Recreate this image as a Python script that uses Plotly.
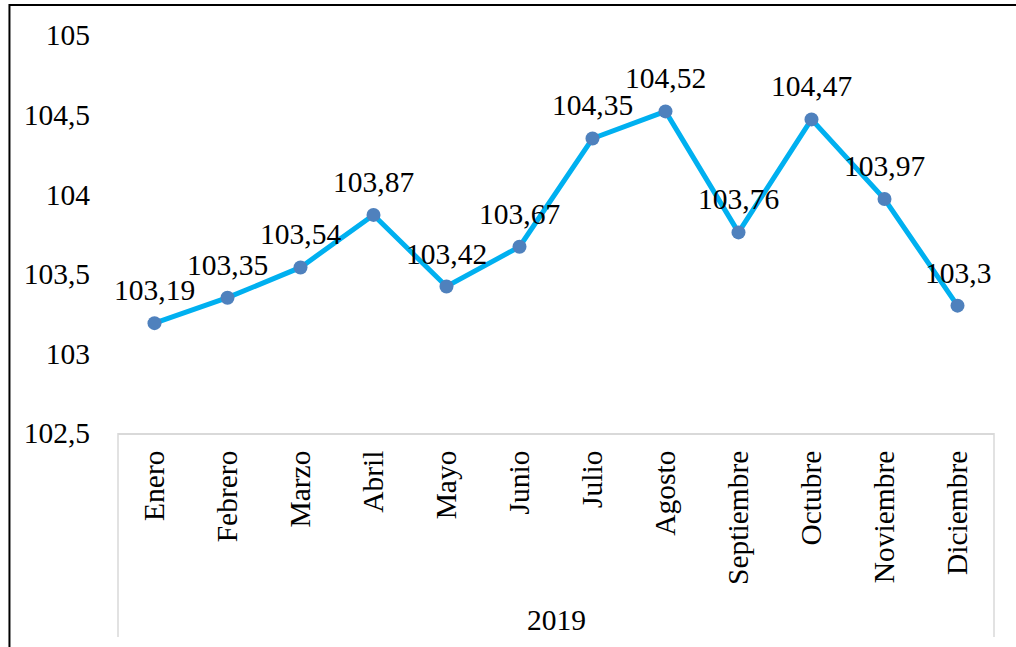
import plotly.graph_objects as go

months = ["Enero", "Febrero", "Marzo", "Abril", "Mayo", "Junio", "Julio",
          "Agosto", "Septiembre", "Octubre", "Noviembre", "Diciembre"]
values = [103.19, 103.35, 103.54, 103.87, 103.42, 103.67, 104.35,
          104.52, 103.76, 104.47, 103.97, 103.30]
year_label = "2019"
y_ticks = [102.5, 103, 103.5, 104, 104.5, 105]

labels = [f"{v:.2f}".rstrip("0").replace(".", ",") for v in values]
tick_text = [f"{t:g}".replace(".", ",") for t in y_ticks]

FONT = "Liberation Serif, Times New Roman, serif"
FS = 29.5

fig = go.Figure()
fig.add_trace(go.Scatter(
    x=list(range(len(months))), y=values,
    mode="lines+markers",
    line=dict(color="#00B0F0", width=5),
    marker=dict(color="#4F81BD", size=14),
    cliponaxis=False, hoverinfo="skip", showlegend=False,
))

annotations = [
    dict(x=i, y=v, xref="x", yref="y", text=t, showarrow=False,
         xanchor="center", yanchor="middle", yshift=33,
         font=dict(family=FONT, size=FS, color="black"))
    for i, (v, t) in enumerate(zip(values, labels))
]
annotations.append(
    dict(text=year_label, xref="paper", yref="paper", x=0.5, y=-0.47,
         xanchor="center", yanchor="middle", showarrow=False,
         font=dict(family=FONT, size=FS, color="black")))

fig.update_layout(
    width=1016, height=647,
    margin=dict(l=118, r=22, t=35, b=214),
    paper_bgcolor="white", plot_bgcolor="white",
    font=dict(family=FONT, size=FS, color="black"),
    xaxis=dict(
        range=[-0.5, 11.5], tickmode="array",
        tickvals=list(range(len(months))), ticktext=months,
        tickangle=-90, showgrid=False, zeroline=False,
        showline=True, linecolor="#D9D9D9", linewidth=1.5,
        ticks="", ticklabelstandoff=4,
        tickfont=dict(family=FONT, size=FS, color="black"),
    ),
    yaxis=dict(
        range=[102.5, 105], tickmode="array", tickvals=y_ticks,
        ticktext=tick_text, showgrid=False, zeroline=False,
        showline=False, ticks="", ticklabelstandoff=27,
        tickfont=dict(family=FONT, size=FS, color="black"),
    ),
    shapes=[
        dict(type="line", xref="paper", yref="paper", x0=0, x1=0,
             y0=0, y1=-0.5126, line=dict(color="#D9D9D9", width=1.5)),
        dict(type="line", xref="paper", yref="paper", x0=1, x1=1,
             y0=0, y1=-0.5126, line=dict(color="#D9D9D9", width=1.5)),
        dict(type="rect", xref="paper", yref="paper",
             x0=-0.1239, x1=1.03, y0=-0.56, y1=1.0754,
             line=dict(color="black", width=2), fillcolor="rgba(0,0,0,0)"),
    ],
    annotations=annotations,
)

fig.write_html("out.html",
               config={"displayModeBar": False},
               post_script="document.body.style.margin='0';")
